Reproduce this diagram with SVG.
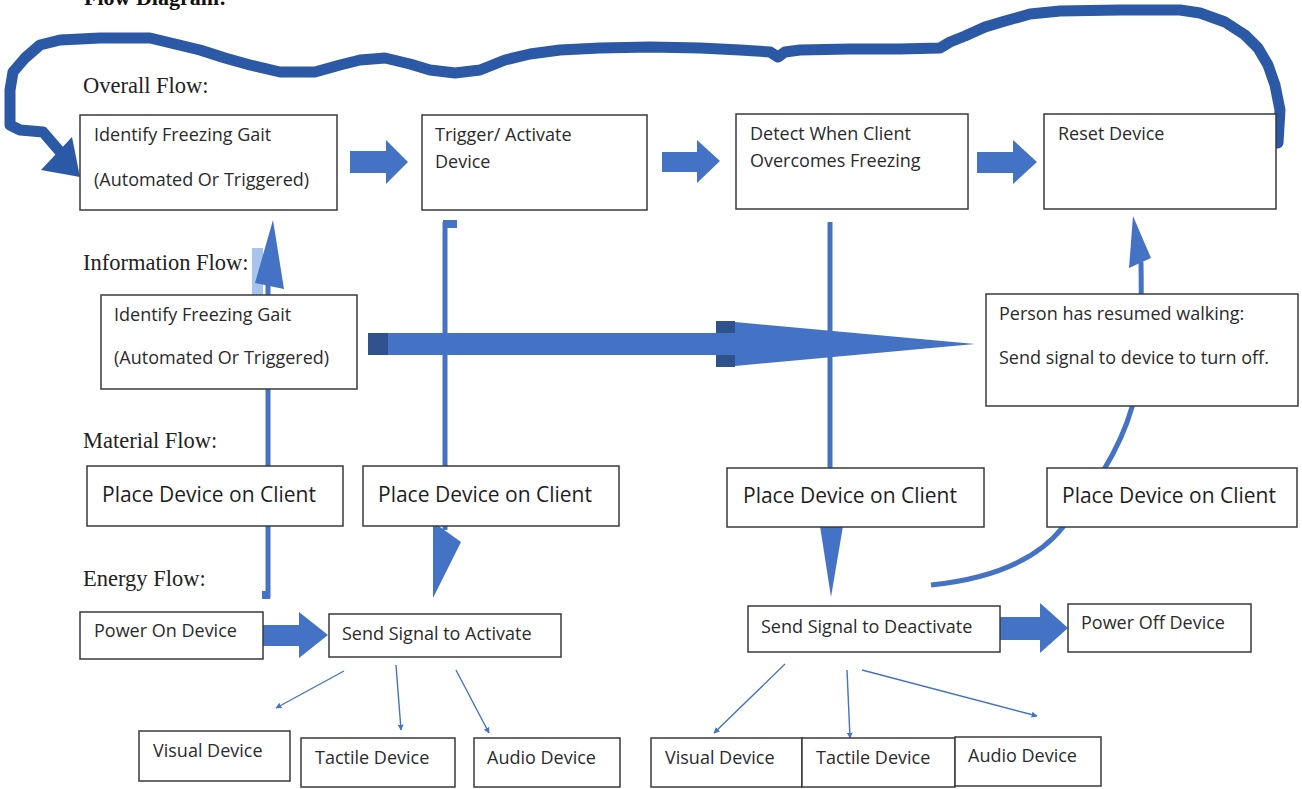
<svg xmlns="http://www.w3.org/2000/svg" width="1302" height="789" viewBox="0 0 1302 789">
<defs>
<style>
.box{fill:#ffffff;stroke:#3a3a3a;stroke-width:1.5}
.t{font-family:"Open Sans","Liberation Sans",sans-serif;font-size:18px;fill:#2b2b2b}
.tl{font-family:"Open Sans","Liberation Sans",sans-serif;font-size:21px;fill:#1e1e1e}
.h{font-family:"Liberation Serif","Times New Roman",serif;font-size:22.5px;fill:#222}
.blk{fill:#4472c4}
.dk{fill:#2f528f}
.vl{stroke:#4472c4;stroke-width:5;fill:none}
.thin{stroke:#4472c4;stroke-width:1.4;fill:none;marker-end:url(#ah)}
.loop{stroke:#2b59a5;stroke-width:11;fill:none;stroke-linejoin:round;stroke-linecap:round}
</style>
<marker id="ah" viewBox="0 0 10 10" refX="9" refY="5" markerWidth="6" markerHeight="6" orient="auto" markerUnits="userSpaceOnUse">
<path d="M0,0 L10,5 L0,10 z" fill="#4472c4"/>
</marker>
</defs>
<rect width="1302" height="789" fill="#ffffff"/>

<text x="84" y="5" font-family="Liberation Serif,serif" font-size="22" font-weight="bold" fill="#111">Flow Diagram:</text>
<g id="labels">
<text class="h" x="83" y="93">Overall Flow:</text>
<text class="h" x="83" y="270">Information Flow:</text>
<text class="h" x="83" y="448">Material Flow:</text>
<text class="h" x="83" y="586">Energy Flow:</text>
</g>

<g id="connectors">
<path class="loop" d="M1278,143 L1280,110 L1275,85 L1268,65 L1258,48 L1245,35 L1225,22 L1200,13 L1180,10 L1120,10 L1060,11 L1030,14 L1005,21 L985,27 L965,36 L950,42 L940,48 L900,49 L850,49 L800,50 L785,52 L778,57 L770,52 L740,50 L700,48 L650,47 L600,48 L560,50 L530,54 L505,60 L480,70 L455,73 L430,70 L410,64 L385,58 L360,60 L340,65 L315,72 L280,72 L250,65 L225,58 L200,50 L175,44 L150,38 L100,38 L60,40 L40,45 L25,58 L13,72 L10,90 L10,125 L20,130 L43,132 L62,154"/>
<polygon points="80,177 72,137 41,170" fill="#2b59a5"/>

<rect x="252" y="248" width="11" height="48" fill="#a9c4ec"/>
<line class="vl" x1="268" y1="270" x2="268" y2="598"/>
<rect x="262" y="591" width="8" height="8" fill="#4472c4"/>
<polygon points="273,220 284,289 255,283" fill="#4472c4"/>

<path class="vl" d="M445,222 V530"/>
<rect x="443" y="220" width="14" height="8" fill="#4472c4"/>
<polygon points="433,522 461,542 433,598" fill="#4472c4"/>

<path class="vl" d="M830,222 V530"/>
<polygon points="820,526 843,526 831,597" fill="#4472c4"/>

<path class="vl" d="M931,585 C1000,578 1040,556 1063,527 C1090,495 1120,450 1132,407 C1140,375 1142,330 1141,262"/>
<polygon points="1133,216 1151,258 1129,268" fill="#4472c4"/>

<path class="blk" d="M350,151 H386 V140 L408,162 L386,184 V173 H350 Z"/>
<path class="blk" d="M662,152 H697 V140 L720,161 L697,183 V172 H662 Z"/>
<path class="blk" d="M977,152 H1013 V140 L1037,162 L1013,184 V173 H977 Z"/>

<rect class="blk" x="368" y="333" width="350" height="22"/>
<rect class="dk" x="368" y="333" width="20" height="22"/>
<path class="blk" d="M716,321 L735,322 L975,344 L735,366 L716,367 Z"/>
<rect class="dk" x="716" y="321" width="19" height="12"/>
<rect class="dk" x="716" y="355" width="19" height="12"/>

<path class="blk" d="M263,625 H299 V612 L328,635 L299,658 V646 H263 Z"/>
<path class="blk" d="M1000,617 H1040 V603 L1068,628 L1040,653 V640 H1000 Z"/>

<line class="thin" x1="344" y1="671" x2="276" y2="708"/>
<line class="thin" x1="396" y1="665" x2="401" y2="730"/>
<line class="thin" x1="456" y1="670" x2="489" y2="733"/>
<line class="thin" x1="785" y1="664" x2="714" y2="733"/>
<line class="thin" x1="847" y1="670" x2="850" y2="738"/>
<line class="thin" x1="862" y1="670" x2="1037" y2="716"/>
</g>

<g id="n-identify"><rect class="box" x="80" y="115" width="257" height="95"/><text class="t" x="94" y="141">Identify Freezing Gait</text><text class="t" x="94" y="186">(Automated Or Triggered)</text></g>
<g id="n-trigger"><rect class="box" x="422" y="115" width="225" height="95"/><text class="t" x="435" y="141">Trigger/ Activate</text><text class="t" x="435" y="168">Device</text></g>
<g id="n-detect"><rect class="box" x="736" y="114" width="232" height="95"/><text class="t" x="750" y="140">Detect When Client</text><text class="t" x="750" y="167">Overcomes Freezing</text></g>
<g id="n-reset"><rect class="box" x="1044" y="114" width="232" height="95"/><text class="t" x="1058" y="140">Reset Device</text></g>

<g id="n-info-identify"><rect class="box" x="101" y="295" width="256" height="94"/><text class="t" x="114" y="321">Identify Freezing Gait</text><text class="t" x="114" y="364">(Automated Or Triggered)</text></g>
<g id="n-resumed"><rect class="box" x="986" y="294" width="312" height="112"/><text class="t" x="999" y="320" font-size="17">Person has resumed walking:</text><text class="t" x="999" y="364" font-size="17">Send signal to device to turn off.</text></g>

<g id="n-place1"><rect class="box" x="87" y="466" width="256" height="60"/><text class="tl" x="102" y="502">Place Device on Client</text></g>
<g id="n-place2"><rect class="box" x="363" y="466" width="256" height="60"/><text class="tl" x="378" y="502">Place Device on Client</text></g>
<g id="n-place3"><rect class="box" x="727" y="468" width="257" height="59"/><text class="tl" x="743" y="503">Place Device on Client</text></g>
<g id="n-place4"><rect class="box" x="1047" y="468" width="250" height="59"/><text class="tl" x="1062" y="503">Place Device on Client</text></g>

<g id="n-poweron"><rect class="box" x="80" y="612" width="183" height="47"/><text class="t" x="94" y="637">Power On Device</text></g>
<g id="n-activate"><rect class="box" x="329" y="614" width="232" height="43"/><text class="t" x="342" y="640">Send Signal to Activate</text></g>
<g id="n-deactivate"><rect class="box" x="748" y="606" width="252" height="46"/><text class="t" x="761" y="633">Send Signal to Deactivate</text></g>
<g id="n-poweroff"><rect class="box" x="1068" y="604" width="183" height="48"/><text class="t" x="1081" y="629">Power Off Device</text></g>

<g id="n-visual1"><rect class="box" x="139" y="731" width="151" height="50"/><text class="t" x="153" y="757">Visual Device</text></g>
<g id="n-tactile1"><rect class="box" x="301" y="738" width="154" height="49"/><text class="t" x="315" y="764">Tactile Device</text></g>
<g id="n-audio1"><rect class="box" x="474" y="738" width="146" height="49"/><text class="t" x="487" y="764">Audio Device</text></g>
<g id="n-visual2"><rect class="box" x="651" y="738" width="151" height="49"/><text class="t" x="665" y="764">Visual Device</text></g>
<g id="n-tactile2"><rect class="box" x="802" y="738" width="153" height="49"/><text class="t" x="816" y="764">Tactile Device</text></g>
<g id="n-audio2"><rect class="box" x="955" y="737" width="146" height="49"/><text class="t" x="968" y="762">Audio Device</text></g>
</svg>
